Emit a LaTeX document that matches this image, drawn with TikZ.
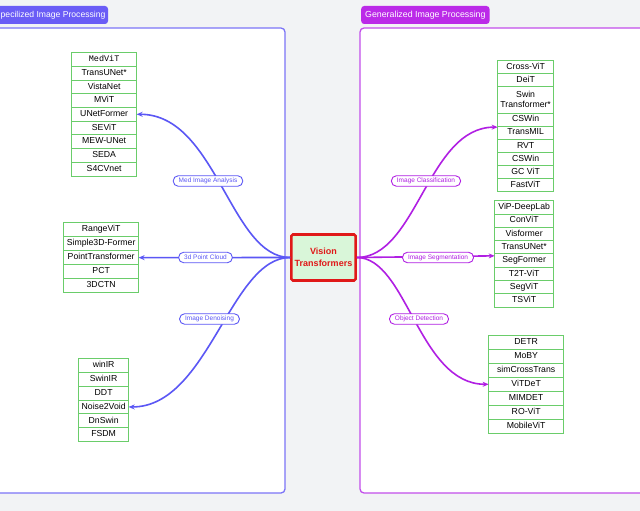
\documentclass[tikz,border=0pt]{standalone}
\usepackage{fontspec}
\setmainfont{Liberation Sans}
\newfontfamily\monof{Liberation Mono}
\usetikzlibrary{matrix,arrows.meta}
\definecolor{bgc}{HTML}{F2F3F5}
\definecolor{leftc}{HTML}{6A5CF6}
\definecolor{leftline}{HTML}{5B57F5}
\definecolor{leftpanel}{HTML}{7C74F7}
\definecolor{rightc}{HTML}{BB2AE8}
\definecolor{rightline}{HTML}{B01FE3}
\definecolor{rightpanel}{HTML}{C24EEB}
\definecolor{itemc}{HTML}{6ACD6A}
\definecolor{vtfill}{HTML}{D9F6D9}
\definecolor{vtred}{HTML}{E01818}
\begin{document}
\begin{tikzpicture}[x=1pt,y=-1pt,
  item/.style={draw=itemc, line width=0.9pt, fill=white, inner xsep=1pt, inner ysep=0pt, outer sep=0pt,
    font=\fontsize{8.7}{10}\selectfont, text height=6.3pt, text depth=1.8pt, align=center},
  lst/.style 2 args={matrix of nodes, inner sep=0pt, row sep=-0.9pt, anchor=north west,
    nodes={item, minimum width=#1, minimum height=#2}},
  badge/.style={rounded corners=3pt, text=white, minimum height=18pt, inner xsep=4pt, inner ysep=0pt,
    font=\fontsize{8.8}{10}\selectfont, text height=6.4pt, text depth=1.8pt},
  pill/.style={draw, fill=white, rounded corners=5pt, line width=0.9pt, minimum height=10.5pt,
    inner xsep=5.5pt, inner ysep=0pt, font=\fontsize{6.5}{7}\selectfont, text height=4.7pt, text depth=1.3pt},
  pillL/.style={pill, draw=leftline, text=leftline},
  pillR/.style={pill, draw=rightline, text=rightline},
  conL/.style={draw=leftline, line width=1.6pt, -{Stealth[length=6pt,width=5pt]}},
  conR/.style={draw=rightline, line width=1.6pt, -{Stealth[length=6pt,width=5pt]}}
]
\useasboundingbox (0,0) rectangle (640,511);
\fill[bgc] (0,0) rectangle (640,511);
% panels
\draw[draw=leftpanel, line width=1.3pt, fill=white, rounded corners=4pt] (-20,28) rectangle (285,493);
\draw[draw=rightpanel, line width=1.3pt, fill=white, rounded corners=4pt] (360,28) rectangle (670,493);
% badges
\fill[leftc, rounded corners=3pt] (-20,6) rectangle (108,24);
\node[badge, anchor=west, inner xsep=0pt, font=\fontsize{8.6}{10}\selectfont] (lbadge) at (0.5,15) {pecilized Image Processing};
\node[badge, fill=rightc, anchor=west] (rbadge) at (361,15) {Generalized Image Processing};
% lists
\matrix (med) [lst={65pt}{13.7pt}] at (71,52) {
  |[font=\monof\fontsize{8.5}{10}\selectfont]| MedViT\\
  TransUNet*\\ VistaNet\\ MViT\\ UNetFormer\\ SEViT\\ MEW-UNet\\ SEDA\\ S4CVnet\\};
\matrix (pc) [lst={75pt}{14pt}] at (63,222) {
  RangeViT\\ Simple3D-Former\\ PointTransformer\\ PCT\\ 3DCTN\\};
\matrix (den) [lst={50pt}{13.8pt}] at (78,358) {
  winIR\\ SwinIR\\ DDT\\ Noise2Void\\ DnSwin\\ FSDM\\};
\matrix (cls) [lst={56pt}{13.1pt}] at (497,60) {
  Cross-ViT\\ DeiT\\
  |[text width=52pt, text depth=11.8pt, minimum height=26.2pt]| Swin Transformer*\\
  CSWin\\ TransMIL\\ RVT\\ CSWin\\ GC ViT\\ FastViT\\};
\matrix (seg) [lst={59pt}{13.3pt}] at (494,200) {
  ViP-DeepLab\\ ConViT\\ Visformer\\ TransUNet*\\ SegFormer\\ T2T-ViT\\ SegViT\\ TSViT\\};
\matrix (det) [lst={75pt}{13.9pt}] at (488,335) {
  DETR\\ MoBY\\ simCrossTrans\\ ViTDeT\\ MIMDET\\ RO-ViT\\ MobileViT\\};
% center
\node[draw=vtred, line width=2.6pt, fill=vtfill, rounded corners=1.5pt, minimum width=61pt,
  minimum height=46pt, text=vtred, font=\bfseries\fontsize{9}{11.5}\selectfont, align=center]
  (vt) at (323.5,257.5) {Vision\\Transformers};
% connectors
\draw[conL] (vt.west) .. controls +(-60,0) and +(80,0) .. (med-5-1.east);
\draw[conL] (vt.west) -- (pc-3-1.east);
\draw[conL] (vt.west) .. controls +(-60,0) and +(80,0) .. (den-4-1.east);
\draw[conR] (vt.east) .. controls +(60,0) and +(-70,0) .. ([yshift=-1pt]cls-5-1.north west);
\draw[conR] (vt.east) -- ([yshift=-2pt]seg-5-1.north west);
\draw[conR] (vt.east) .. controls +(50,0) and +(-70,0) .. (det-4-1.west);
% labels
\node[pillL] (lmed) at (208,181) {Med Image Analysis};
\node[pillL] (lpc) at (205.5,257.5) {3d Point Cloud};
\node[pillL] (lden) at (209.5,319) {Image Denoising};
\node[pillR] (lcls) at (426,181) {Image Classification};
\node[pillR] (lseg) at (438,257.5) {Image Segmentation};
\node[pillR] (ldet) at (419,319) {Object Detection};
\end{tikzpicture}
\end{document}
